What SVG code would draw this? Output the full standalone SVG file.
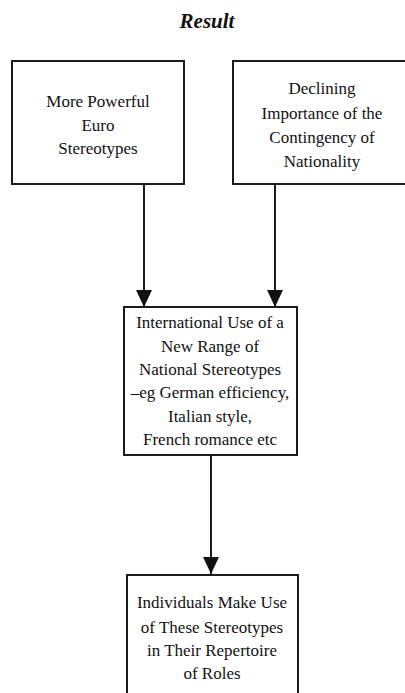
<svg xmlns="http://www.w3.org/2000/svg" width="405" height="693" viewBox="0 0 405 693">
<style>
.box{fill:#fff;stroke:#111;stroke-width:1.9}
.t{font-family:"Liberation Serif","Times New Roman",serif;font-size:17px;fill:#111;text-anchor:middle}
.title{font-family:"Liberation Serif","Times New Roman",serif;font-size:21px;font-weight:bold;font-style:italic;fill:#111;text-anchor:middle}
.c{stroke:#111;stroke-width:1.9;fill:none}
</style>
<defs>
<marker id="ah" markerUnits="userSpaceOnUse" markerWidth="18" markerHeight="16" refX="17" refY="8" orient="auto">
<path d="M0,0 L17,8 L0,16 Z" fill="#111"/>
</marker>
</defs>
<rect width="405" height="693" fill="#fff"/>
<text class="title" x="207" y="28">Result</text>
<g id="connectors">
<line class="c" x1="144" y1="184" x2="144" y2="307" marker-end="url(#ah)"/>
<line class="c" x1="275" y1="184" x2="275" y2="307" marker-end="url(#ah)"/>
<line class="c" x1="211" y1="455" x2="211" y2="574" marker-end="url(#ah)"/>
</g>
<g id="node1">
<rect class="box" x="12" y="61" width="172" height="123"/>
<text class="t" x="98" y="107">More Powerful</text>
<text class="t" x="98" y="131">Euro</text>
<text class="t" x="98" y="154">Stereotypes</text>
</g>
<g id="node2">
<rect class="box" x="233" y="61" width="178" height="123"/>
<text class="t" x="322" y="94">Declining</text>
<text class="t" x="322" y="119">Importance of the</text>
<text class="t" x="322" y="143">Contingency of</text>
<text class="t" x="322" y="167">Nationality</text>
</g>
<g id="node3">
<rect class="box" x="124" y="307" width="173" height="148"/>
<text class="t" x="210" y="328">International Use of a</text>
<text class="t" x="210" y="352">New Range of</text>
<text class="t" x="210" y="375">National Stereotypes</text>
<text class="t" x="210" y="398">–eg German efficiency,</text>
<text class="t" x="210" y="422">Italian style,</text>
<text class="t" x="210" y="445">French romance etc</text>
</g>
<g id="node4">
<rect class="box" x="127" y="575" width="171" height="130"/>
<text class="t" x="212" y="608">Individuals Make Use</text>
<text class="t" x="212" y="633">of These Stereotypes</text>
<text class="t" x="212" y="656">in Their Repertoire</text>
<text class="t" x="212" y="679">of Roles</text>
</g>
</svg>
